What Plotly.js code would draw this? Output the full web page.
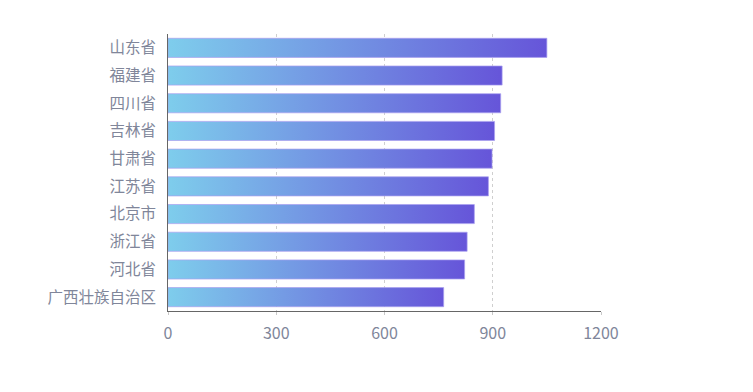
<!DOCTYPE html>
<html>
<head>
<meta charset="utf-8">
<script src="https://cdn.plot.ly/plotly-3.0.1.min.js"></script>
<style>
html,body{margin:0;padding:0;background:#fff;}
#chart{width:753px;height:392px;}
</style>
</head>
<body>
<div id="chart"></div>
<script>
const provinces = ["山东省","福建省","四川省","吉林省","甘肃省","江苏省","北京市","浙江省","河北省","广西壮族自治区"];
const values = [1050, 926, 922, 905, 898, 888, 849, 829, 822, 764];
const xTicks = [0, 300, 600, 900, 1200];

const labelColor = "#80869a";
const font = "Noto Sans CJK SC, Noto Sans, sans-serif";

const trace = {
  type: "bar",
  orientation: "h",
  y: provinces,
  x: values,
  marker: {color: "#6f8fe0", line: {color: "rgba(170,160,240,0.7)", width: 1}},
  hoverinfo: "x+y"
};

const layout = {
  width: 753, height: 392,
  margin: {l: 168, r: 152, t: 34, b: 81},
  paper_bgcolor: "#fff", plot_bgcolor: "#fff",
  bargap: 0.31,
  showlegend: false,
  font: {family: font, size: 15, color: labelColor},
  xaxis: {
    range: [0, 1200],
    tickvals: xTicks,
    ticktext: xTicks.map(String),
    showgrid: true, gridcolor: "#cfcfcf", griddash: "3px,3px", gridwidth: 1,
    zeroline: false,
    showline: true, linecolor: "#666", linewidth: 1,
    ticks: "outside", ticklen: 3, tickcolor: "#c8c8c8",
    ticklabelstandoff: 5,
    tickfont: {size: 16, color: labelColor, family: font},
    fixedrange: true
  },
  yaxis: {
    autorange: "reversed",
    type: "category",
    showgrid: false, zeroline: false,
    showline: true, linecolor: "#666", linewidth: 1,
    ticks: "", ticklabelstandoff: 8,
    tickfont: {size: 15.5, color: labelColor, family: font},
    fixedrange: true
  }
};

Plotly.newPlot("chart", [trace], layout, {displayModeBar: false, staticPlot: true}).then(gd => {
  const svg = gd.querySelector("svg.main-svg");
  let defs = svg.querySelector("defs");
  if (!defs) { defs = document.createElementNS("http://www.w3.org/2000/svg", "defs"); svg.insertBefore(defs, svg.firstChild); }
  const ns = "http://www.w3.org/2000/svg";
  const lg = document.createElementNS(ns, "linearGradient");
  lg.setAttribute("id", "barGrad");
  lg.setAttribute("x1", "0"); lg.setAttribute("y1", "0");
  lg.setAttribute("x2", "1"); lg.setAttribute("y2", "0");
  [["0%", "#7ecdec"], ["100%", "#6655d9"]].forEach(([o, c]) => {
    const s = document.createElementNS(ns, "stop");
    s.setAttribute("offset", o); s.setAttribute("stop-color", c);
    lg.appendChild(s);
  });
  defs.appendChild(lg);
  gd.querySelectorAll(".barlayer .point path").forEach(p => { p.style.fill = "url(#barGrad)"; });
});
</script>
</body>
</html>
